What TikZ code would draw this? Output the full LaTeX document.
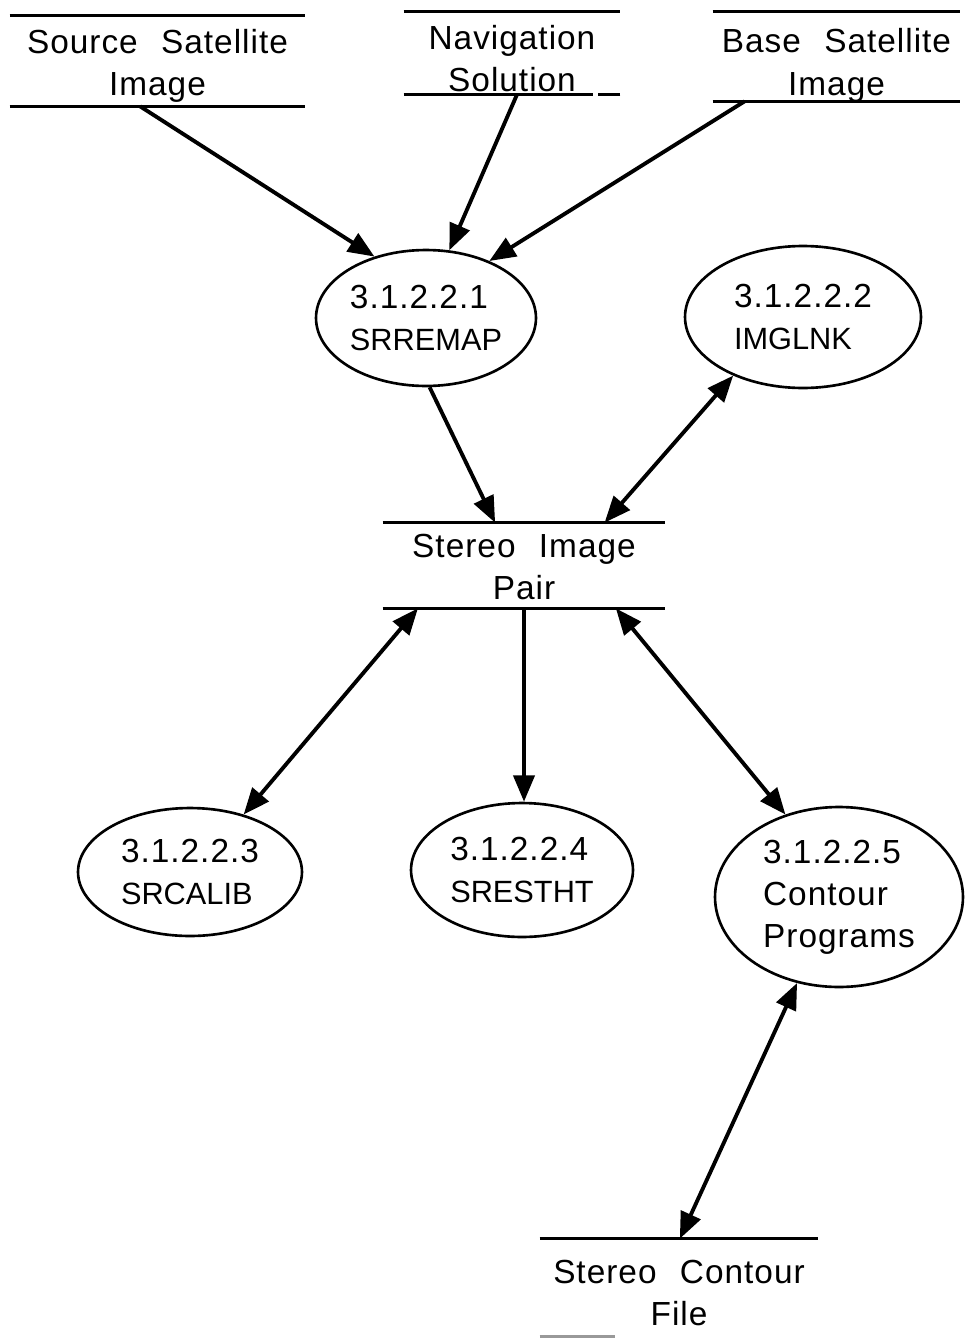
\documentclass[tikz,border=0pt]{standalone}
\usepackage{fontspec}
\setmainfont{Liberation Sans}[LetterSpace=3]
\newfontfamily\namefont{Liberation Sans}
\usepackage{tikz}
\usetikzlibrary{shapes.geometric,arrows.meta}

\newcommand{\pname}[1]{{\namefont\fontsize{17.5}{24}\selectfont #1}}
\newcommand{\wgap}{\hspace{0.7em}}

\begin{document}
\begin{tikzpicture}[
	x=0.02cm, y=-0.02cm,
	every node/.style={font=\fontsize{19}{24}\selectfont, inner sep=0pt},
	store/.style={},
	storetext/.style={align=center, yshift=-3pt},
	proc/.style={draw, ellipse, line width=1.5pt, align=left},
	storeline/.style={line width=1.7pt},
	flow/.style={line width=2.2pt},
	>={Triangle[length=15pt,width=12pt]}
	]
	\useasboundingbox (0,0) rectangle (964,1339);

	% data stores
	\node[store, minimum width=5.9cm, minimum height=1.8cm, label={[storetext]center:Source\wgap Satellite\\Image}] (src) at (157.5,61) {};
	\node[store, minimum width=4.32cm, minimum height=1.64cm, label={[storetext]center:Navigation\\Solution}] (nav) at (512,53) {};
	\node[store, minimum width=4.94cm, minimum height=1.78cm, label={[storetext, yshift=-2pt]center:Base\wgap Satellite\\Image}] (base) at (836.5,56.5) {};
	\node[store, minimum width=5.64cm, minimum height=1.7cm, label={[storetext, yshift=2pt]center:Stereo\wgap Image\\Pair}] (pair) at (524,565.5) {};
	\node[store, minimum width=5.56cm, minimum height=1.94cm, label={[storetext]center:Stereo\wgap Contour\\File}] (cfile) at (679,1287.5) {};

	\foreach \s in {src,nav,base,pair,cfile}
		\draw[storeline] (\s.north west) -- (\s.north east);
	\foreach \s in {src,base,pair}
		\draw[storeline] (\s.south west) -- (\s.south east);
	\draw[storeline] (nav.south west) -- ++(189,0);
	\draw[storeline] (nav.south east) -- ++(-22,0);
	\draw[storeline, black!40] (cfile.south west) -- ++(75,0);

	% processes
	\node[proc, minimum width=4.4cm, minimum height=2.72cm] (remap) at (426,318) {3.1.2.2.1\\\pname{SRREMAP}};
	\node[proc, minimum width=4.72cm, minimum height=2.84cm] (imglnk) at (803,317) {3.1.2.2.2\\\pname{IMGLNK}};
	\node[proc, minimum width=4.48cm, minimum height=2.56cm] (srcalib) at (190,872) {3.1.2.2.3\\\pname{SRCALIB}};
	\node[proc, minimum width=4.44cm, minimum height=2.68cm] (sresth) at (522,870) {3.1.2.2.4\\\pname{SRESTHT}};
	\node[proc, minimum width=4.96cm, minimum height=3.6cm] (contour) at (839,897) {3.1.2.2.5\\Contour\\Programs};

	% flows
	\draw[flow,->] (src.249) -- (remap.130);
	\draw[flow,->] (nav.277) -- (remap.71);
	\draw[flow,->] (base.206) -- (remap.42);
	\draw[flow,->] (remap.273) -- (pair.124);
	\draw[flow,<->] (imglnk.220) -- (pair.28);
	\draw[flow,<->] (pair.202) -- (srcalib.47);
	\draw[flow,->] (pair.south) -- (pair.south |- sresth.north);
	\draw[flow,<->] (pair.335) -- (contour.123);
	\draw[flow,<->] (contour.244) -- (cfile.89);
\end{tikzpicture}
\end{document}
